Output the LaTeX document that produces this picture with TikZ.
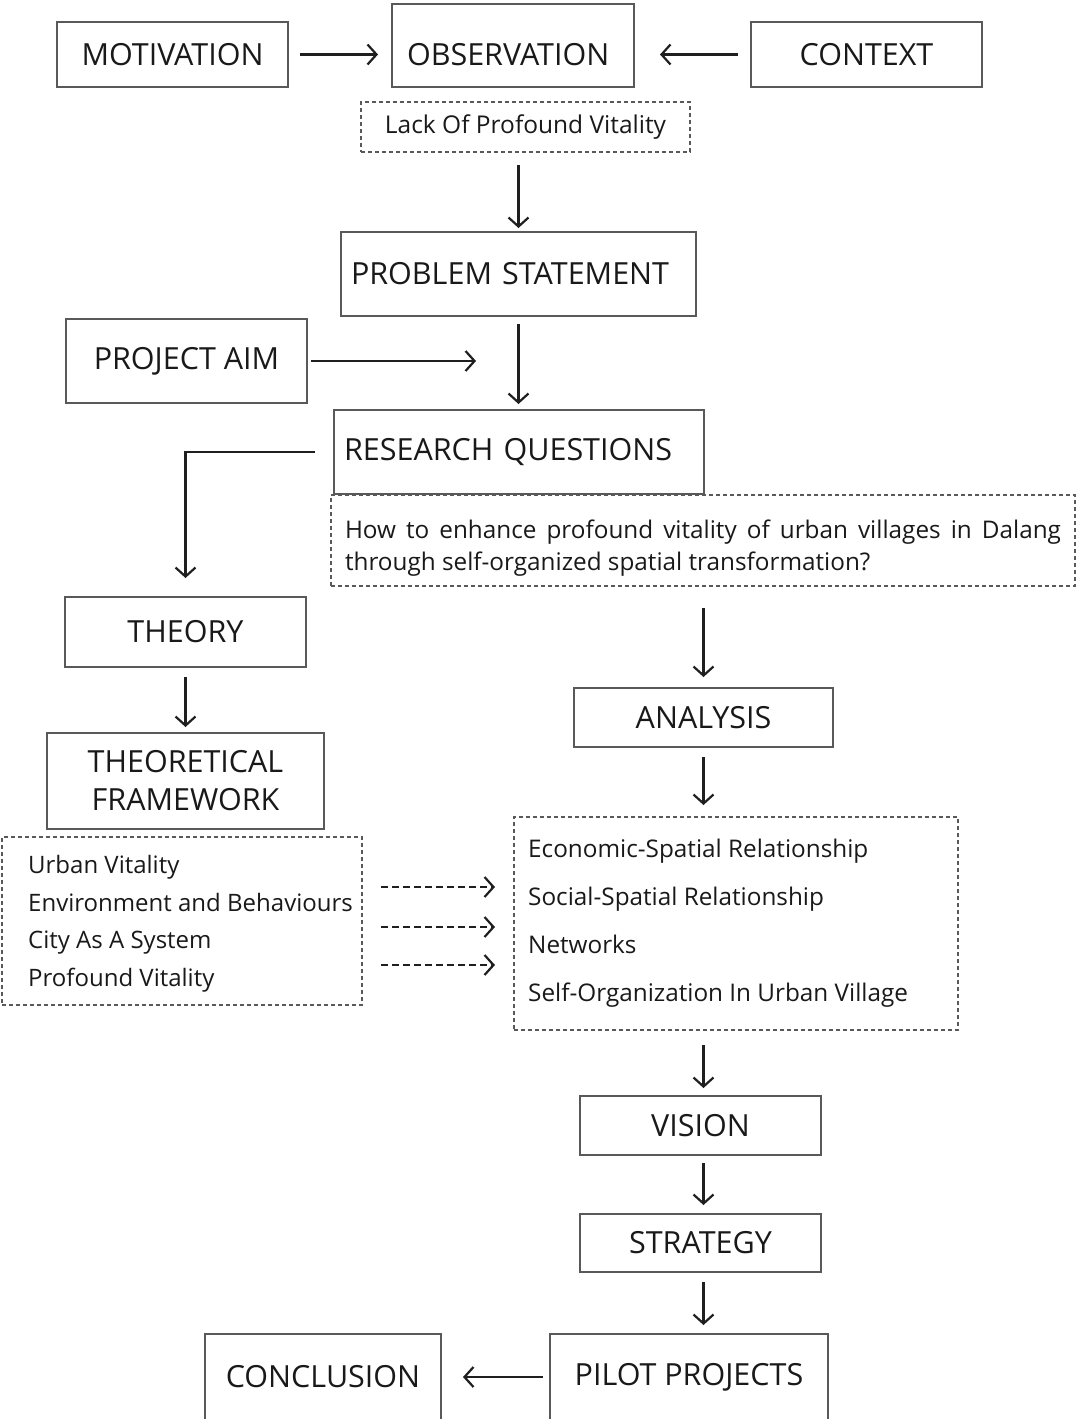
\documentclass[tikz,border=0pt]{standalone}
\usepackage{fontspec}
\setmainfont{Open Sans}
\usetikzlibrary{arrows.meta}

\tikzset{
  box/.style={draw=black!65, line width=1.2pt, inner sep=0pt, outer sep=0pt,
    font=\fontsize{30.5}{36}\selectfont, text=black!90},
  dbox/.style={box, dash pattern=on 4pt off 3pt, font=\fontsize{24.5}{32}\selectfont},
  listtext/.style={inner sep=0pt, align=left, text=black!90},
  arr/.style={-{Straight Barb[length=9pt,width=20pt,line width=2.2pt]}, line width=2.2pt, black!88},
  dasharr/.style={arr, dash pattern=on 7pt off 4pt}
}

\begin{document}
\begin{tikzpicture}[x=1pt,y=1pt,yscale=-1]
\useasboundingbox (0,0) rectangle (1076,1419);

%Shape: Rectangle [top row]
\node[box, minimum width=231pt, minimum height=65pt] (mot) at (172.5,54.5) {MOTIVATION};
\node[box, minimum width=242pt, minimum height=83pt, text width=212pt, inner xsep=15pt, align=left, text height=41pt] (obs) at (513,45.5) {OBSERVATION};
\node[box, minimum width=231pt, minimum height=65pt] (ctx) at (866.5,54.5) {CONTEXT};
\node[dbox, minimum width=329pt, minimum height=50pt] (lack) at (525.5,127) {Lack Of Profound Vitality};

%Shape: Rectangle [problem and aim]
\node[box, minimum width=355pt, minimum height=84pt, text width=335pt, inner xsep=10pt, align=left] (prob) at (518.5,274) {PROBLEM STATEMENT};
\node[box, minimum width=241pt, minimum height=84pt] (aim) at (186.5,361) {PROJECT AIM};
\coordinate (aimend) at (476,361);
\node[box, minimum width=370pt, minimum height=84pt, text width=350pt, inner xsep=10pt, align=left] (rq) at (519,452) {RESEARCH QUESTIONS};
\node[dbox, minimum width=744pt, minimum height=91pt] (quest) at (703,540.5) {};
\node[listtext, text width=716pt, align=justify, font=\fontsize{24.3}{32}\selectfont] (questtext) at ([yshift=8pt]quest.center)
  {How to enhance profound vitality of urban villages in Dalang\linebreak through self-organized spatial transformation?};

%Shape: Rectangle [theory side]
\node[box, minimum width=241pt, minimum height=70pt] (theory) at (185.5,632) {THEORY};
\node[box, minimum width=277pt, minimum height=96pt, align=center, font=\fontsize{30.5}{38}\selectfont] (frame) at (185.5,781) {THEORETICAL\\ FRAMEWORK};
\node[dbox, minimum width=360pt, minimum height=168pt] (theobox) at (182,921) {};
\node[listtext, anchor=west, font=\fontsize{24}{37.5}\selectfont] (theolist) at ([xshift=26pt,yshift=3pt]theobox.west)
  {Urban Vitality\\ Environment and Behaviours\\ City As A System\\ Profound Vitality};

%Shape: Rectangle [analysis side]
\node[box, minimum width=259pt, minimum height=59pt] (ana) at (703.5,717.5) {ANALYSIS};
\node[dbox, minimum width=444pt, minimum height=213pt] (rbox) at (736,923.5) {};
\node[listtext, anchor=west, font=\fontsize{24.3}{48}\selectfont] (analist) at ([xshift=14pt]rbox.west)
  {Economic-Spatial Relationship\\ Social-Spatial Relationship\\ Networks\\ Self-Organization In Urban Village};

%Shape: Rectangle [bottom]
\node[box, minimum width=241pt, minimum height=59pt] (vision) at (700.5,1125.5) {VISION};
\node[box, minimum width=241pt, minimum height=58pt] (strat) at (700.5,1243) {STRATEGY};
\node[box, minimum width=278pt, minimum height=86pt] (pilot) at (689,1377) {PILOT PROJECTS};
\node[box, minimum width=236pt, minimum height=86pt] (concl) at (323,1377) {CONCLUSION};

%Straight Lines
\draw[arr, shorten <=12pt, shorten >=14pt] (mot.east) -- (mot.east -| obs.west);
\draw[arr, shorten <=13pt, shorten >=26pt] (ctx.west) -- (ctx.west -| obs.east);
\draw[arr, shorten <=13pt, shorten >=4pt] (lack.south -| prob.north) -- (prob.north);
\draw[arr, shorten <=8pt, shorten >=6pt] (prob.south) -- (prob.south |- rq.north);
\draw[arr, shorten <=4pt] (aim.east) -- (aimend);
\draw[arr, shorten <=19pt, shorten >=19pt] (rq.west) -| (theory.north);
\draw[arr, shorten <=22pt, shorten >=11pt] (quest.south -| ana.north) -- (ana.north);
\draw[arr, shorten <=10pt, shorten >=6pt] (theory.south) -- (theory.south |- frame.north);
\draw[arr, shorten <=10pt, shorten >=12pt] (ana.south) -- (ana.south |- rbox.north);
\draw[arr, shorten <=15pt, shorten >=8pt] (rbox.south -| ana.south) -- (vision.north -| ana.south);
\draw[arr, shorten <=8pt, shorten >=9pt] (vision.south -| ana.south) -- (strat.north -| ana.south);
\draw[arr, shorten <=10pt, shorten >=9pt] (strat.south -| ana.south) -- (pilot.north -| ana.south);
\draw[arr, shorten <=7pt, shorten >=22pt] (pilot.west) -- (pilot.west -| concl.east);

%Dashed Lines
\foreach \y in {887,927,965}
  \draw[dasharr, shorten <=19pt, shorten >=19pt] (theobox.east |- 0,\y) -- (rbox.west |- 0,\y);

\end{tikzpicture}
\end{document}
